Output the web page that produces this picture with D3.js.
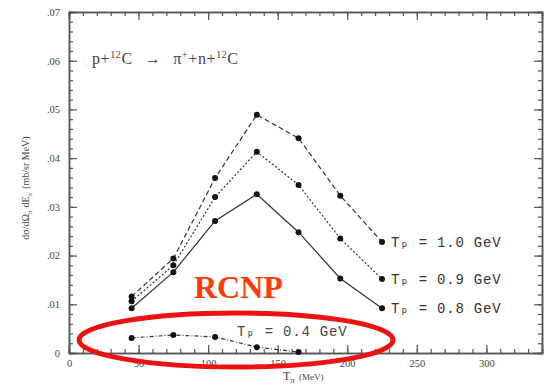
<!DOCTYPE html>
<html>
<head>
<meta charset="utf-8">
<script src="https://cdn.jsdelivr.net/npm/d3@7"></script>
<style>
  body { margin: 0; background: white; }
  svg { display: block; }
  .tick text { font-family: "Liberation Serif", serif; font-size: 10.5px; fill: #444; }
</style>
</head>
<body>
<svg></svg>
<script>
// data
let energies = [45, 75, 105, 135, 165, 195, 225];
let tp10 = [0.0116, 0.0194, 0.0359, 0.0489, 0.0441, 0.0323, 0.0228];
let tp09 = [0.0106, 0.0180, 0.0320, 0.0413, 0.0345, 0.0235, 0.0152];
let tp08 = [0.0092, 0.0166, 0.0271, 0.0326, 0.0248, 0.0153, 0.0092];
let energies04 = [45, 75, 105, 135, 165];
let tp04 = [0.0031, 0.0037, 0.0033, 0.0012, 0.0002];

let seriesNames = ["T\u209A = 1.0 GeV", "T\u209A = 0.9 GeV", "T\u209A = 0.8 GeV"];
let xTicks = [0, 50, 100, 150, 200, 250, 300];
let yTicks = [0, 0.01, 0.02, 0.03, 0.04, 0.05, 0.06, 0.07];
let yTickLabels = ["0", ".01", ".02", ".03", ".04", ".05", ".06", ".07"];

let width = 546;
let height = 384;
let paddings = { top: 12, right: 4, bottom: 31, left: 69 };

let svg = d3.select("svg")
            .attr("width", width)
            .attr("height", height)
            .style("background-color", "white");

let scaleX = d3.scaleLinear()
               .domain([0, 340])
               .range([paddings.left, width - paddings.right]);
let scaleY = d3.scaleLinear()
               .domain([0, 0.07])
               .range([height - paddings.bottom, paddings.top]);

let minorX = d3.range(0, 341, 10);
let minorY = d3.range(0, 0.0701, 0.002);

function drawAxes(){
    let bottom = height - paddings.bottom;
    let right = width - paddings.right;

    // bottom
    svg.append("g").attr("transform", `translate(0, ${bottom})`)
       .call(d3.axisBottom(scaleX).tickValues(minorX).tickSize(-4).tickFormat(""));
    svg.append("g").attr("transform", `translate(0, ${bottom})`)
       .call(d3.axisBottom(scaleX).tickValues(xTicks).tickSize(-8).tickPadding(7).tickFormat(d3.format("d")));
    // top
    svg.append("g").attr("transform", `translate(0, ${paddings.top})`)
       .call(d3.axisTop(scaleX).tickValues(minorX).tickSize(-4).tickFormat(""));
    svg.append("g").attr("transform", `translate(0, ${paddings.top})`)
       .call(d3.axisTop(scaleX).tickValues(xTicks).tickSize(-8).tickFormat(""));
    // left
    svg.append("g").attr("transform", `translate(${paddings.left}, 0)`)
       .call(d3.axisLeft(scaleY).tickValues(minorY).tickSize(-4).tickFormat(""));
    svg.append("g").attr("transform", `translate(${paddings.left}, 0)`)
       .call(d3.axisLeft(scaleY).tickValues(yTicks).tickSize(-8).tickPadding(9)
             .tickFormat((d, i) => yTickLabels[i]));
    // right
    svg.append("g").attr("transform", `translate(${right}, 0)`)
       .call(d3.axisRight(scaleY).tickValues(minorY).tickSize(-4).tickFormat(""));
    svg.append("g").attr("transform", `translate(${right}, 0)`)
       .call(d3.axisRight(scaleY).tickValues(yTicks).tickSize(-8).tickFormat(""));

    svg.selectAll(".domain").attr("stroke", "#555").attr("stroke-width", 1.5);
    svg.selectAll(".tick line").attr("stroke", "#555").attr("stroke-width", 1.2);

    // axis titles
    let xt = svg.append("text")
       .attr("x", 283).attr("y", 380)
       .style("font-family", "Liberation Serif, serif")
       .style("font-size", "12px").attr("fill", "#444");
    xt.append("tspan").text("T");
    xt.append("tspan").attr("dy", 3).style("font-size", "9px").text("\u03C0");
    xt.append("tspan").attr("dy", -3).attr("dx", 4).style("font-size", "9px").text("(MeV)");

    let yt = svg.append("text")
       .attr("transform", "translate(29, 188) rotate(-90)")
       .attr("text-anchor", "middle")
       .style("font-family", "Liberation Serif, serif")
       .style("font-size", "10px").attr("fill", "#444");
    yt.append("tspan").text("d\u03C3/d\u03A9");
    yt.append("tspan").attr("dy", 3).style("font-size", "7px").text("\u03C0");
    yt.append("tspan").attr("dy", -3).attr("dx", 3).text("dE");
    yt.append("tspan").attr("dy", 3).style("font-size", "7px").text("\u03C0");
    yt.append("tspan").attr("dy", -3).attr("dx", 4).text("(mb/sr MeV)");
}

function drawSeries(xs, ys, dash){
    let line = d3.line()
                 .x((d, i) => scaleX(xs[i]))
                 .y(d => scaleY(d));
    svg.append("path")
       .datum(ys)
       .attr("d", line)
       .attr("fill", "none")
       .attr("stroke", "#333")
       .attr("stroke-width", 1.2)
       .attr("stroke-dasharray", dash);
    svg.append("g")
       .selectAll("circle")
       .data(ys)
       .enter()
       .append("circle")
       .attr("cx", (d, i) => scaleX(xs[i]))
       .attr("cy", d => scaleY(d))
       .attr("r", 3)
       .attr("fill", "#111");
}

function drawLabels(){
    let last = energies.length - 1;
    [tp10, tp09, tp08].forEach((s, i) => {
        svg.append("text")
           .attr("x", scaleX(energies[last]) + 9)
           .attr("y", scaleY(s[last]) + 5)
           .style("font-family", "Liberation Mono, monospace")
           .style("font-size", "14px")
           .style("letter-spacing", "0.8px")
           .attr("fill", "#333")
           .text(seriesNames[i]);
    });
    svg.append("text")
       .attr("x", 237).attr("y", 336)
       .style("font-family", "Liberation Mono, monospace")
       .style("font-size", "14px")
       .style("letter-spacing", "0.8px")
       .attr("fill", "#444")
       .text("T\u209A = 0.4 GeV");

    let rt = svg.append("text")
       .attr("x", 92).attr("y", 64)
       .style("font-family", "Liberation Serif, serif")
       .style("font-size", "16px")
       .style("letter-spacing", "0.6px")
       .attr("fill", "#444");
    rt.append("tspan").text("p+");
    rt.append("tspan").attr("dy", -6).style("font-size", "10px").text("12");
    rt.append("tspan").attr("dy", 6).text("C");
    rt.append("tspan").attr("dx", 12).text("\u2192");
    rt.append("tspan").attr("dx", 12).text("\u03C0");
    rt.append("tspan").attr("dy", -6).style("font-size", "10px").text("+");
    rt.append("tspan").attr("dy", 6).text("+n+");
    rt.append("tspan").attr("dy", -6).style("font-size", "10px").text("12");
    rt.append("tspan").attr("dy", 6).text("C");

    svg.append("text")
       .attr("x", 194).attr("y", 298)
       .style("font-family", "Liberation Serif, serif")
       .style("font-weight", "bold")
       .style("font-size", "32px")
       .attr("fill", "#ff3a0a")
       .text("RCNP");

    svg.append("ellipse")
       .attr("cx", 236).attr("cy", 340)
       .attr("rx", 157).attr("ry", 27)
       .attr("fill", "none")
       .attr("stroke", "#ee1111")
       .attr("stroke-width", 5);
}

drawAxes();
drawSeries(energies, tp10, "5,3");
drawSeries(energies, tp09, "2,2");
drawSeries(energies, tp08, null);
drawSeries(energies04, tp04, "4,2,1,2");
drawLabels();
</script>
</body>
</html>
